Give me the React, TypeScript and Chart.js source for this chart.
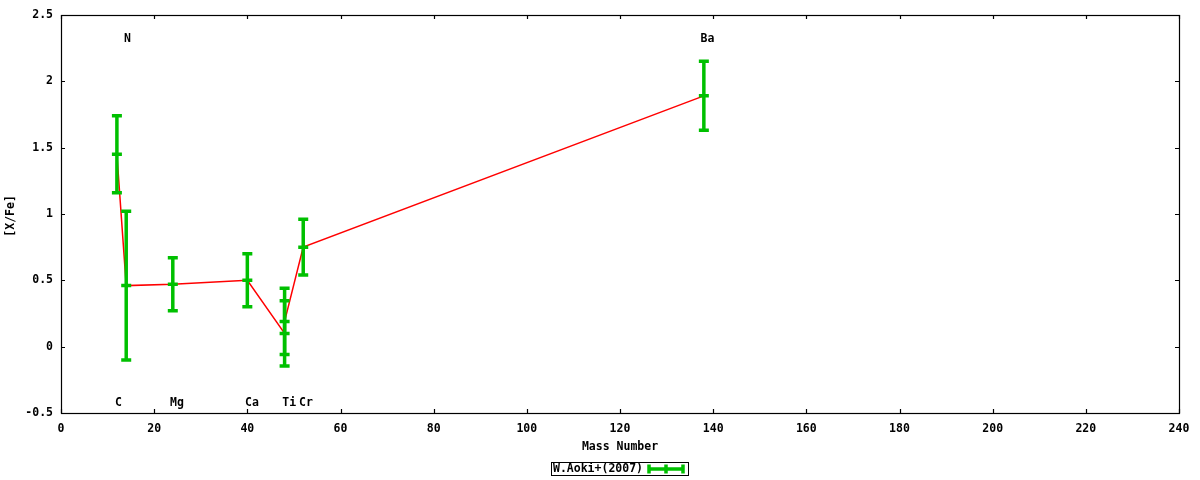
import { useEffect, useRef } from "react";
import { Chart, registerables } from "chart.js";

Chart.register(...registerables);

// ---- data ----
const elements = ["C", "N", "Mg", "Ca", "Ti", "Ti", "Cr", "Ba"];
const massNumbers = [12, 14, 24, 40, 48, 48, 52, 138];
const xFe = [1.45, 0.46, 0.47, 0.5, 0.1, 0.19, 0.75, 1.89];
const xFeErr = [0.29, 0.56, 0.2, 0.2, 0.245, 0.25, 0.21, 0.26];

// element name annotations
const labelNames = ["C", "N", "Mg", "Ca", "Ti", "Cr", "Ba"];
const labelX = [11.6, 13.5, 23.4, 39.5, 47.5, 51.1, 137.3];
const labelY = [-0.425, 2.315, -0.425, -0.425, -0.425, -0.425, 2.315];

const xMin = 0;
const xMax = 240;
const xStep = 20;
const yMin = -0.5;
const yMax = 2.5;
const yStep = 0.5;

const xTitle = "Mass Number";
const yTitle = "[X/Fe]";
const legendLabel = "W.Aoki+(2007)";

const GREEN = "#00c000";
const RED = "#ff0000";
const FAMILY = "'DejaVu Sans Mono', 'Liberation Mono', monospace";
const FONT = `bold 11.5px ${FAMILY}`;

export default function App() {
  const ref = useRef<HTMLCanvasElement>(null);

  useEffect(() => {
    const canvas = ref.current;
    if (!canvas) return;

    const decor = {
      id: "gnuplotDecor",
      afterDatasetsDraw(chart: any) {
        const { ctx, scales } = chart;
        const x = scales.x;
        const y = scales.y;
        ctx.save();
        ctx.strokeStyle = GREEN;
        ctx.lineWidth = 3.5;
        ctx.lineCap = "butt";
        massNumbers.forEach((m, i) => {
          const px = x.getPixelForValue(m);
          const yc = y.getPixelForValue(xFe[i]);
          const yt = y.getPixelForValue(xFe[i] + xFeErr[i]);
          const yb = y.getPixelForValue(xFe[i] - xFeErr[i]);
          ctx.beginPath();
          ctx.moveTo(px, yt);
          ctx.lineTo(px, yb);
          for (const yy of [yt, yc, yb]) {
            ctx.moveTo(px - 5, yy);
            ctx.lineTo(px + 5, yy);
          }
          ctx.stroke();
        });
        ctx.restore();
      },
      afterDraw(chart: any) {
        const { ctx, chartArea, scales } = chart;
        const x = scales.x;
        const y = scales.y;
        const { left, right, top, bottom } = chartArea;
        ctx.save();
        // frame
        ctx.strokeStyle = "#000";
        ctx.lineWidth = 1.2;
        ctx.strokeRect(Math.round(left) + 0.5, Math.round(top) + 0.5, Math.round(right - left), Math.round(bottom - top));
        // inward ticks, mirrored
        const tl = 4;
        ctx.beginPath();
        x.ticks.forEach((t: any) => {
          const px = Math.round(x.getPixelForValue(t.value)) + 0.5;
          ctx.moveTo(px, bottom);
          ctx.lineTo(px, bottom - tl);
          ctx.moveTo(px, top);
          ctx.lineTo(px, top + tl);
        });
        y.ticks.forEach((t: any) => {
          const py = Math.round(y.getPixelForValue(t.value)) + 0.5;
          ctx.moveTo(left, py);
          ctx.lineTo(left + tl, py);
          ctx.moveTo(right, py);
          ctx.lineTo(right - tl, py);
        });
        ctx.stroke();

        // element labels
        ctx.fillStyle = "#000";
        ctx.font = FONT;
        ctx.textAlign = "left";
        ctx.textBaseline = "middle";
        labelNames.forEach((n, i) => {
          ctx.fillText(n, x.getPixelForValue(labelX[i]), y.getPixelForValue(labelY[i]));
        });

        // axis titles
        ctx.textAlign = "center";
        ctx.fillText(xTitle, (left + right) / 2, 447);
        ctx.save();
        ctx.translate(11, (top + bottom) / 2 + 2);
        ctx.rotate(-Math.PI / 2);
        ctx.fillText(yTitle, 0, 0);
        ctx.restore();

        // legend
        const lx = 551.5;
        const ly = 462.5;
        const lw = 137;
        const lh = 13;
        ctx.lineWidth = 1;
        ctx.strokeStyle = "#000";
        ctx.strokeRect(lx, ly, lw, lh);
        ctx.textAlign = "left";
        ctx.fillText(legendLabel, 553, 469.5);
        ctx.strokeStyle = GREEN;
        ctx.lineWidth = 3.5;
        const sy = 469;
        const sx0 = 649;
        const sx1 = 683;
        ctx.beginPath();
        ctx.moveTo(sx0, sy);
        ctx.lineTo(sx1, sy);
        for (const sx of [sx0, (sx0 + sx1) / 2, sx1]) {
          ctx.moveTo(sx, sy - 4.5);
          ctx.lineTo(sx, sy + 4.5);
        }
        ctx.stroke();
        ctx.restore();
      },
    };

    const tickFont = { family: FAMILY, size: 11.5, weight: "bold" as const };

    const chart = new Chart(canvas, {
      type: "line",
      data: {
        datasets: [
          {
            label: legendLabel,
            data: massNumbers.map((m, i) => ({ x: m, y: xFe[i] })),
            borderColor: RED,
            borderWidth: 1.5,
            pointRadius: 0,
            fill: false,
            tension: 0,
          },
        ],
      },
      options: {
        responsive: false,
        animation: false,
        events: [],
        layout: { padding: { top: 13, right: 21, left: 0, bottom: 0 } },
        plugins: { legend: { display: false }, tooltip: { enabled: false } },
        scales: {
          x: {
            type: "linear",
            min: xMin,
            max: xMax,
            ticks: {
              stepSize: xStep,
              color: "#000",
              font: tickFont,
              padding: 9,
              maxRotation: 0,
              autoSkip: false,
              callback: (v: any) => String(Number(v)),
            },
            grid: { display: false, drawTicks: false },
            border: { display: false },
            afterFit: (s: any) => {
              s.height = 67;
            },
          },
          y: {
            type: "linear",
            min: yMin,
            max: yMax,
            ticks: {
              stepSize: yStep,
              color: "#000",
              font: tickFont,
              padding: 8,
              callback: (v: any) => String(Math.round(Number(v) * 10) / 10),
            },
            grid: { display: false, drawTicks: false },
            border: { display: false },
            afterFit: (s: any) => {
              s.width = 61;
            },
          },
        },
      },
      plugins: [decor],
    });

    return () => chart.destroy();
  }, []);

  return (
    <div style={{ position: "absolute", left: 0, top: 0, width: 1200, height: 480, background: "#fff" }}>
      <canvas ref={ref} width={1200} height={480} />
    </div>
  );
}
